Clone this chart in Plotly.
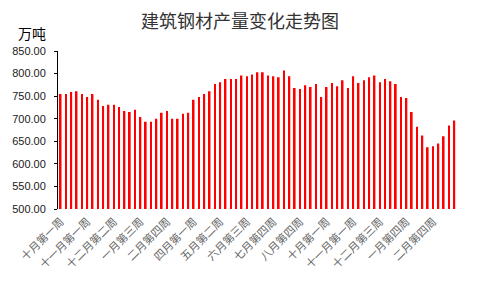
import plotly.graph_objects as go

title_text = "建筑钢材产量变化走势图"
unit_label = "万吨"

week_labels = [
    "十月第一周", "十一月第一周", "十二月第二周", "一月第三周", "二月第四周",
    "四月第一周", "五月第二周", "六月第三周", "七月第四周", "八月第四周",
    "十月第一周", "十一月第一周", "十二月第三周", "一月第四周", "二月第四周",
]
label_every = 5

production = [
    755, 755, 759, 761, 755, 748, 755, 742, 728, 731,
    731, 726, 717, 715, 720, 704, 693, 693, 700, 713,
    717, 700, 700, 711, 713, 742, 748, 755, 761, 777,
    781, 788, 788, 788, 796, 794, 798, 803, 803, 796,
    794, 792, 807, 794, 768, 766, 774, 770, 777, 748,
    770, 779, 772, 785, 768, 794, 779, 785, 792, 796,
    781, 788, 783, 777, 748, 746, 715, 682, 663, 637,
    639, 645, 661, 685, 696,
]

x_idx = list(range(len(production)))
tick_pos = x_idx[::label_every][:len(week_labels)]

fig = go.Figure(
    go.Bar(x=x_idx, y=production, marker=dict(color="#FF0000", line=dict(width=0)))
)

fig.update_layout(
    width=480, height=288,
    margin=dict(l=56, r=23, t=51, b=79),
    paper_bgcolor="white", plot_bgcolor="white",
    bargap=0.68,
    showlegend=False,
    title=dict(text=title_text, x=0.5, xanchor="center", y=1 - 22 / 288, yanchor="middle",
               font=dict(family="Noto Sans CJK SC", size=18, color="#333333")),
    annotations=[dict(text=unit_label, xref="paper", yref="paper", x=(14 - 56) / 401, y=1 + 18 / 158,
                      xanchor="left", yanchor="middle", showarrow=False,
                      font=dict(family="Noto Sans CJK SC", size=14, color="#000000"))],
)

fig.update_xaxes(
    range=[-0.5, len(production) - 0.5],
    tickmode="array", tickvals=tick_pos, ticktext=week_labels,
    tickangle=-45, ticks="", showline=False, showgrid=False, zeroline=False,
    ticklabelstandoff=3,
    tickfont=dict(family="Noto Sans CJK SC", size=11, color="#666666"),
)
fig.update_yaxes(
    range=[500, 850], dtick=50, tickformat=".2f",
    ticks="outside", ticklen=3, tickcolor="black",
    showline=True, linecolor="black", linewidth=1,
    showgrid=False, zeroline=False,
    ticklabelstandoff=6,
    tickfont=dict(family="Liberation Sans", size=11, color="#1a1a1a"),
)

fig.write_html("out.html")
